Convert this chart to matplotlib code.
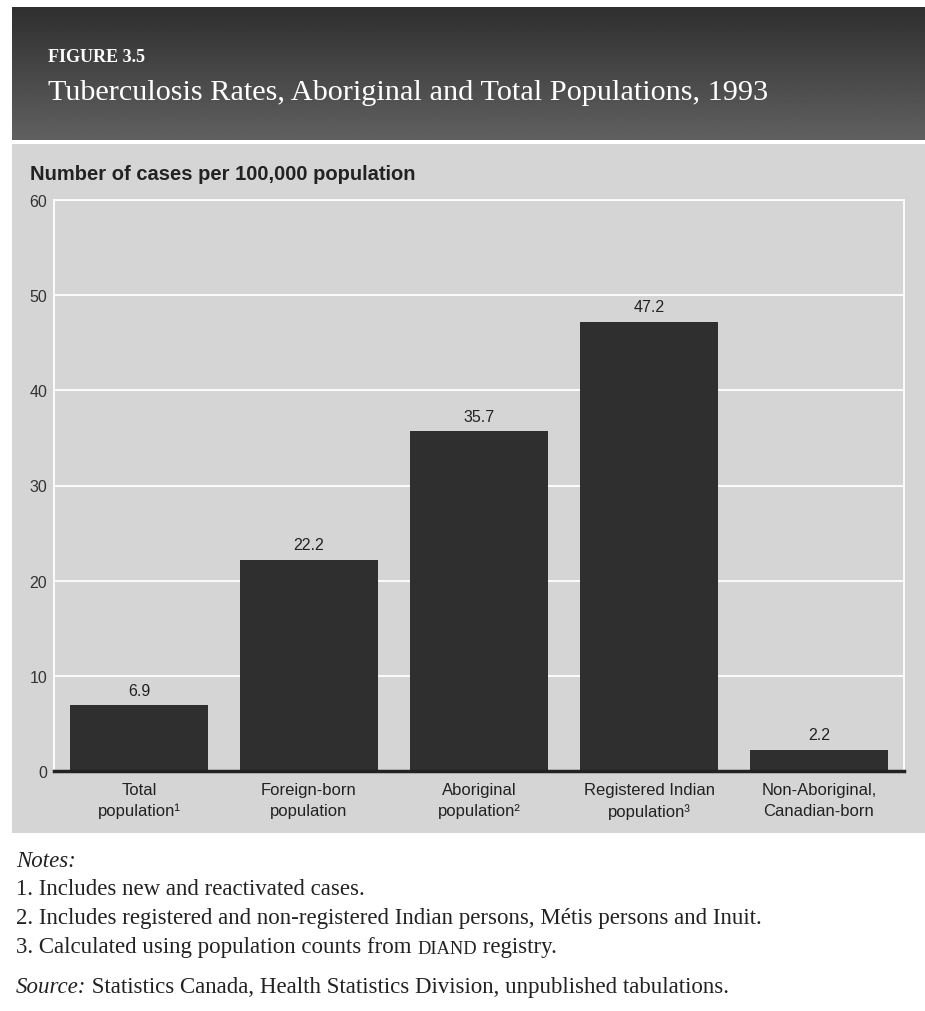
import matplotlib.pyplot as plt
import numpy as np
from matplotlib.patches import Rectangle

plt.rcParams['font.family'] = ['Liberation Sans', 'DejaVu Sans']

categories = ['Total\npopulation¹', 'Foreign-born\npopulation',
              'Aboriginal\npopulation²', 'Registered Indian\npopulation³',
              'Non-Aboriginal,\nCanadian-born']
rates = [6.9, 22.2, 35.7, 47.2, 2.2]
yticks = [0, 10, 20, 30, 40, 50, 60]
notes = ['1. Includes new and reactivated cases.',
         '2. Includes registered and non-registered Indian persons, Métis persons and Inuit.',
         '3. Calculated using population counts from ']

W, H = 925, 1012
fig = plt.figure(figsize=(W / 100, H / 100), dpi=100, facecolor='white')

def fx(px):
    return px / W

def fy(py):
    return 1 - py / H

# dark header band with a soft gradient
hdr = fig.add_axes([fx(12), fy(141), 1 - fx(12), (141 - 8) / H])
grad = np.linspace(0, 1, 100).reshape(-1, 1) * np.ones((1, 50))
hdr.imshow(grad, aspect='auto', cmap='gray', vmin=-0.95, vmax=4.2,
           extent=[0, 1, 0, 1], origin='upper')
hdr.axis('off')

# grey chart panel
fig.patches.append(Rectangle((fx(12), fy(834)), 1 - fx(12), (834 - 145) / H,
                             transform=fig.transFigure, facecolor='#d5d5d5',
                             edgecolor='none', zorder=-5))

serif = ['Liberation Serif', 'DejaVu Serif']
fig.text(fx(48), fy(57), 'FIGURE 3.5', color='white', family=serif,
         fontsize=13, fontweight='bold', va='center')
fig.text(fx(48), fy(93), 'Tuberculosis Rates, Aboriginal and Total Populations, 1993',
         color='white', family=serif, fontsize=21.8, va='center')

fig.text(fx(30), fy(175), 'Number of cases per 100,000 population',
         fontsize=14.5, fontweight='bold', color='#222222', va='center')

ax = fig.add_axes([fx(54), fy(772), (904 - 54) / W, (772 - 201) / H])
ax.set_facecolor('none')
x = np.arange(len(rates))
ax.bar(x, rates, width=0.815, color='#2f2f2f', zorder=3)
for xi, v in zip(x, rates):
    ax.text(xi, v + 0.8, f'{v}', ha='center', va='bottom', fontsize=11.5,
            color='#222222')

ax.set_xlim(-0.5, 4.5)
ax.set_ylim(0, 60)
ax.set_yticks(yticks)
ax.set_yticklabels([str(t) for t in yticks], fontsize=11.5, color='#333333')
ax.yaxis.grid(True, color='white', linewidth=1.3, zorder=1)
ax.tick_params(axis='y', length=0, pad=5)
ax.set_xticks(x)
ax.set_xticklabels(categories, fontsize=12, color='#222222', linespacing=1.45)
ax.tick_params(axis='x', length=0, pad=8)
for s in ['left', 'right', 'top']:
    ax.spines[s].set_color('white')
    ax.spines[s].set_linewidth(1.3)
ax.spines['bottom'].set_color('#222222')
ax.spines['bottom'].set_linewidth(2.5)
ax.spines['bottom'].set_zorder(4)

# notes
fs = 16.5
fig.text(fx(16), fy(862), 'Notes:', family=serif, style='italic',
         fontsize=fs, color='#222222', va='center')
ys = [890, 919, 948]
for yy, n in zip(ys, notes):
    t = fig.text(fx(16), fy(yy), n, family=serif, fontsize=fs, color='#222222',
                 va='center')
ann = ax.annotate('DIAND', xy=(1, 0), xycoords=t, family=serif,
                  fontsize=fs * 0.8, color='#222222', va='bottom', ha='left',
                  annotation_clip=False)
ax.annotate(' registry.', xy=(1, 0), xycoords=ann, family=serif, fontsize=fs,
            color='#222222', va='bottom', ha='left', annotation_clip=False)

s = fig.text(fx(16), fy(988), 'Source:', family=serif, style='italic',
             fontsize=fs, color='#222222', va='center')
ax.annotate(' Statistics Canada, Health Statistics Division, unpublished tabulations.',
            xy=(1, 0), xycoords=s, family=serif, fontsize=fs, color='#222222',
            va='bottom', ha='left', annotation_clip=False)

fig.savefig('out.png', dpi=100, facecolor='white')
